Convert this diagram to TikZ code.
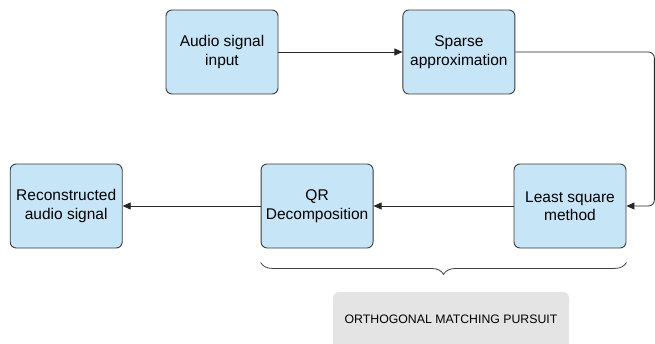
\documentclass[tikz,border=0pt]{standalone}
\usepackage{fontspec}
\setmainfont{Liberation Sans}
\usetikzlibrary{positioning,decorations.pathreplacing,arrows.meta}
\definecolor{boxblue}{HTML}{C6E6F7}
\definecolor{boxedge}{HTML}{3A3A3A}
\definecolor{ompgrey}{HTML}{E4E4E4}
\tikzset{blk/.style={rectangle,rounded corners=6pt,draw=boxedge,fill=boxblue,line width=0.9pt,
		minimum width=112pt,minimum height=84pt,inner sep=0pt,align=center,
		font=\fontsize{15.5}{18.5}\selectfont},
	 gbox/.style={rectangle,rounded corners=6pt,fill=ompgrey,minimum width=236pt,minimum height=58pt,
		inner sep=0pt,font=\fontsize{12.3}{14}\selectfont},
	 lnk/.style={-{Triangle[length=8pt,width=7pt]},line width=0.8pt,draw=black!85},
	 node distance = 124pt
	 }

\begin{document}
\begin{tikzpicture}[x=1pt,y=-1pt] % OMP pipeline
	\useasboundingbox (0,0) rectangle (655,343);
	\node[blk] (a1) at (222,52) {Audio signal\\input};
	\node[blk] (a2) [right=of a1] {Sparse\\approximation};
	\node[blk] (a3) at (570,206) {Least square\\method};
	\node[blk] (a4) [left=140pt of a3] {QR\\Decomposition};
	\node[blk] (a5) [left=138pt of a4] {Reconstructed\\audio signal};
	\draw[lnk] (a1) to (a2);
	\draw[lnk,rounded corners=6pt] (a2.east) -- ++(139,0) |- (a3.east);
	\draw[lnk] (a3) to (a4); \draw[lnk] (a4) to (a5);
	\draw[decorate,decoration={brace,mirror,amplitude=12pt},line width=0.8pt,draw=black!75]
		([yshift=-14pt]a4.south west) -- ([yshift=-14pt]a3.south east);
	\node[gbox] (omp) at (451,321) {\raisebox{4pt}{ORTHOGONAL MATCHING PURSUIT}};
\end{tikzpicture}
\end{document}
